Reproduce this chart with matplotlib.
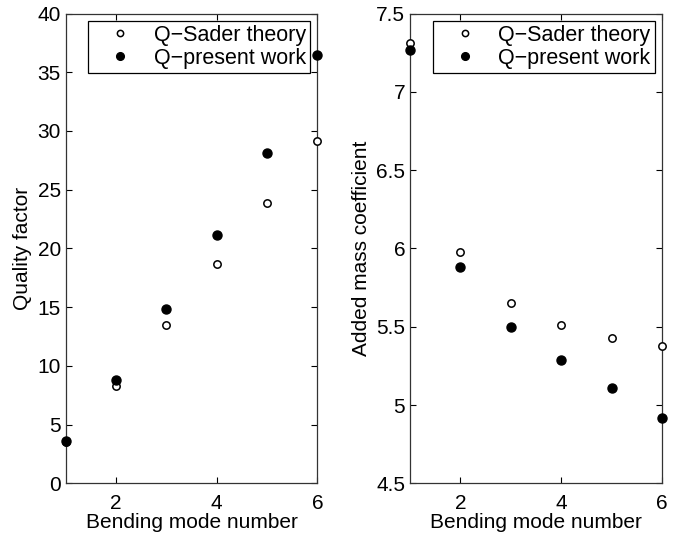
import matplotlib.pyplot as plt

plt.rcParams['font.family'] = ['Liberation Sans', 'DejaVu Sans']

modes = [1, 2, 3, 4, 5, 6]
q_sader = [3.5, 8.25, 13.5, 18.7, 23.9, 29.15]
q_present = [3.6, 8.8, 14.8, 21.15, 28.1, 36.5]
mass_sader = [7.31, 5.98, 5.65, 5.51, 5.43, 5.38]
mass_present = [7.27, 5.88, 5.50, 5.29, 5.11, 4.92]

fig = plt.figure(figsize=(6.73, 5.35), dpi=100)
ax1 = fig.add_axes([0.0976, 0.0966, 0.3739, 0.8781])
ax2 = fig.add_axes([0.6092, 0.0966, 0.3744, 0.8781])


def style_axes(ax):
    ax.tick_params(direction='in', top=True, right=True, length=4, width=0.8,
                   labelsize=15)
    ax.tick_params(axis='x', pad=7.5)
    ax.tick_params(axis='y', pad=3.5)
    for s in ax.spines.values():
        s.set_linewidth(0.9)
        s.set_color('#333333')
    ax.set_xlim(1, 6)
    ax.set_xticks([2, 4, 6])
    ax.set_xlabel('Bending mode number', fontsize=15, labelpad=0.5)


ax1.plot(modes, q_sader, 'o', mfc='white', mec='black', ms=5.3, mew=1.1,
         clip_on=False, label='Q\u2212Sader theory', zorder=3)
ax1.plot(modes, q_present, 'o', color='black', ms=6.5, clip_on=False,
         label='Q\u2212present work', zorder=4)
style_axes(ax1)
ax1.set_ylim(0, 40)
ax1.set_yticks(range(0, 41, 5))
ax1.set_ylabel('Quality factor', fontsize=15, labelpad=4)

ax2.plot(modes, mass_sader, 'o', mfc='white', mec='black', ms=5.3, mew=1.1,
         clip_on=False, label='Q\u2212Sader theory', zorder=3)
ax2.plot(modes, mass_present, 'o', color='black', ms=6.5, clip_on=False,
         label='Q\u2212present work', zorder=4)
style_axes(ax2)
ax2.set_ylim(4.5, 7.5)
ax2.set_yticks([4.5, 5, 5.5, 6, 6.5, 7, 7.5])
ax2.set_yticklabels(['4.5', '5', '5.5', '6', '6.5', '7', '7.5'])
ax2.set_ylabel('Added mass coefficient', fontsize=15, labelpad=4)

for ax in (ax1, ax2):
    leg = ax.legend(loc='upper right', fontsize=15.5, frameon=True, fancybox=False,
                    edgecolor='black', framealpha=1, handlelength=2.6,
                    handletextpad=0.25, borderpad=0.2, labelspacing=0.08,
                    borderaxespad=0.33, markerscale=0.85)
    leg.get_frame().set_linewidth(0.9)

fig.savefig('out.png', dpi=100)
